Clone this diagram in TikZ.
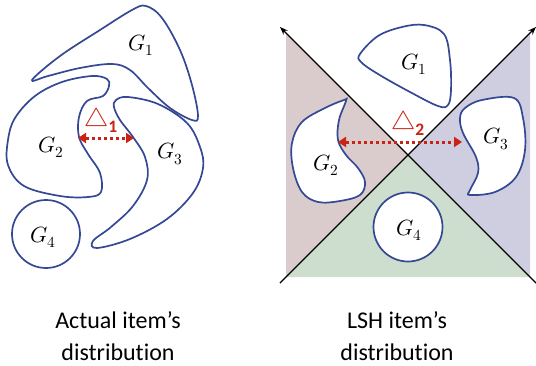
\documentclass[tikz,border=0pt]{standalone}
\usepackage{fontspec}
\setmainfont{Carlito}[Ligatures=NoCommon]
\usepackage{unicode-math}
\setmathfont{Latin Modern Math}
\usetikzlibrary{arrows.meta}
\definecolor{blobblue}{RGB}{52,72,148}
\definecolor{gapred}{RGB}{200,35,20}
\definecolor{fillrose}{RGB}{218,204,204}
\definecolor{fillslate}{RGB}{206,206,224}
\definecolor{fillsage}{RGB}{206,222,206}
\begin{document}
\begin{tikzpicture}[x=1pt,y=-1pt,
  blob/.style={draw=blobblue,line width=1.7pt,fill=white},
  glabel/.style={font=\fontsize{22}{26}\selectfont},
  gap/.style={draw=gapred,line width=3pt,dash pattern=on 3.5pt off 2.5pt,
    {Triangle[length=8pt,width=10pt]}-{Triangle[length=8pt,width=10pt]}},
  gaplabel/.style={text=gapred,font=\fontsize{25}{30}\selectfont},
  axis/.style={draw=black,line width=1.4pt},
  caption/.style={align=center,font=\fontsize{24}{32}\selectfont}]
\useasboundingbox (0,0) rectangle (536,365);

% ---------- actual distribution ----------
\draw[blob] plot[smooth cycle,tension=0.6] coordinates
  {(32,80) (60,56) (100,30) (132,10) (146,6) (162,18) (180,50) (192,85) (198,116)
   (192,120) (170,108) (148,88) (130,70) (112,64) (80,68) (48,76)};
\draw[blob] plot[smooth cycle,tension=0.6] coordinates
  {(109,86) (103,96) (87,101) (79,117) (79,137) (88,154) (100,173) (101,192)
   (88,197) (60,196) (24,186) (8,165) (8,140) (15,118) (35,96) (62,82) (92,76) (107,79)};
\draw[blob] plot[smooth cycle,tension=0.6] coordinates
  {(116,100) (128,97) (158,104) (187,123) (200,147) (203,168) (193,193) (167,219)
   (130,239) (97,248) (93,241) (111,227) (133,206) (147,180) (145,157) (133,137)
   (120,120) (114,107)};
\draw[blob] (46,234) circle[radius=34];

\node[glabel] (l1) at (141,45) {$G_1$};
\node[glabel] (l2) at (51,147) {$G_2$};
\node[glabel] (l3) at (170,154) {$G_3$};
\node[glabel] (l4) at (43,237) {$G_4$};

\coordinate (a1s) at (78,138);
\coordinate (a1e) at (134,138);
\draw[gap] (a1s) -- (a1e);
\node[gaplabel] (d1) at (101,120) {$\triangle_{\mathbf{1}}$};

% ---------- LSH distribution ----------
\coordinate (o) at (408,155);
\coordinate (tl) at (280,27);
\coordinate (tr) at (536,27);
\coordinate (bl) at (280,283);
\coordinate (br) at (536,283);
\fill[fillrose] (286,33) -- (o) -- (286,277) -- cycle;
\fill[fillslate] (530,33) -- (o) -- (530,277) -- cycle;
\fill[fillsage] (286,277) -- (o) -- (530,277) -- cycle;

\draw[blob] plot[smooth cycle,tension=0.6] coordinates
  {(360,54) (378,36) (402,27) (424,25) (444,34) (450,60) (451,90) (448,105)
   (438,106) (410,92) (378,74) (361,62)};
\draw[blob] plot[smooth cycle,tension=0.6] coordinates
  {(346,101) (339,120) (338,140) (346,155) (358,168) (365,182) (360,195) (340,201)
   (318,202) (302,192) (293,168) (292,143) (302,122) (325,108) (344,100)};
\draw[blob] plot[smooth cycle,tension=0.6] coordinates
  {(465,108) (482,100) (514,98) (523,118) (525,150) (516,177) (495,192)
   (470,195) (470,190) (478,173) (476,157) (463,133) (460,118)};
\draw[blob] (408,227) circle[radius=34.5];

\draw[axis,-{Stealth[length=8pt,width=6pt]}] (br) -- (tl);
\draw[axis,-{Stealth[length=8pt,width=6pt]}] (bl) -- (tr);

\node[glabel] (r1) at (414,64) {$G_1$};
\node[glabel] (r2) at (326,165) {$G_2$};
\node[glabel] (r3) at (496,139) {$G_3$};
\node[glabel] (r4) at (409,230) {$G_4$};

\coordinate (a2s) at (338,142);
\coordinate (a2e) at (462,142);
\draw[gap] (a2s) -- (a2e);
\node[gaplabel] (d2) at (408,123) {$\triangle_{\mathbf{2}}$};

% ---------- captions ----------
\node[caption] (c1) at (118,336) {Actual item’s\\distribution};
\node[caption] (c2) at (397,336) {LSH item’s\\distribution};
\end{tikzpicture}
\end{document}
